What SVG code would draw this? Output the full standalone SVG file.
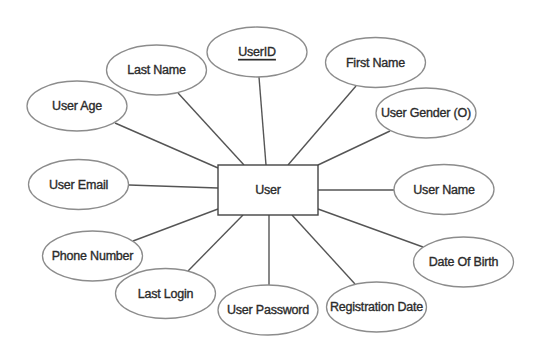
<svg xmlns="http://www.w3.org/2000/svg" width="539" height="361" viewBox="0 0 539 361">
  <style>
    .attr ellipse { fill: #ffffff; stroke: #8c8c8c; stroke-width: 1.3; }
    .entity rect { fill: #ffffff; stroke: #444444; stroke-width: 1.4; }
    text { font-family: "Liberation Sans", Arial, sans-serif; font-size: 12.5px; fill: #2b2b2b; stroke: #2b2b2b; stroke-width: 0.35; text-anchor: middle; dominant-baseline: central; letter-spacing: -0.2px; }
    .key { text-decoration: underline; }
    #connectors line { stroke: #555555; stroke-width: 1.4; }
  </style>
  <rect width="539" height="361" fill="#ffffff"/>

  <!-- attribute-to-entity links -->
  <g id="connectors">
    <line x1="178" y1="93" x2="244" y2="165"/>
    <line x1="259" y1="77" x2="266" y2="165"/>
    <line x1="115" y1="123" x2="218" y2="168"/>
    <line x1="356" y1="86" x2="288" y2="165"/>
    <line x1="390" y1="131" x2="318" y2="165"/>
    <line x1="129" y1="185" x2="218" y2="188"/>
    <line x1="133" y1="241" x2="218" y2="209"/>
    <line x1="188" y1="271" x2="243" y2="215"/>
    <line x1="269" y1="285" x2="269" y2="215"/>
    <line x1="355" y1="284" x2="292" y2="215"/>
    <line x1="423" y1="247" x2="318" y2="209"/>
    <line x1="394" y1="190" x2="318" y2="190"/>
  </g>

  <g id="user" class="entity">
    <rect x="218" y="165" width="100" height="50"/>
    <text x="268" y="190">User</text>
  </g>

  <g id="user-id" class="attr">
    <ellipse cx="257" cy="52" rx="50" ry="25"/>
    <text x="257" y="52" class="key">UserID</text>
  </g>
  <g id="last-name" class="attr">
    <ellipse cx="156.5" cy="70" rx="50" ry="25"/>
    <text x="156.5" y="70">Last Name</text>
  </g>
  <g id="user-age" class="attr">
    <ellipse cx="77" cy="106" rx="50" ry="25"/>
    <text x="77" y="106">User Age</text>
  </g>
  <g id="first-name" class="attr">
    <ellipse cx="375.5" cy="62.5" rx="50" ry="25"/>
    <text x="375.5" y="62.5">First Name</text>
  </g>
  <g id="user-gender" class="attr">
    <ellipse cx="426" cy="113" rx="50" ry="25"/>
    <text x="426" y="113">User Gender (O)</text>
  </g>
  <g id="user-email" class="attr">
    <ellipse cx="78.5" cy="184.5" rx="50" ry="25"/>
    <text x="78.5" y="184.5">User Email</text>
  </g>
  <g id="user-name" class="attr">
    <ellipse cx="444" cy="189.5" rx="50" ry="25"/>
    <text x="444" y="189.5">User Name</text>
  </g>
  <g id="phone-number" class="attr">
    <ellipse cx="92.5" cy="256" rx="50" ry="25"/>
    <text x="92.5" y="256">Phone Number</text>
  </g>
  <g id="date-of-birth" class="attr">
    <ellipse cx="463.5" cy="262" rx="50" ry="25"/>
    <text x="463.5" y="262">Date Of Birth</text>
  </g>
  <g id="last-login" class="attr">
    <ellipse cx="165.5" cy="293.5" rx="50" ry="25"/>
    <text x="165.5" y="293.5">Last Login</text>
  </g>
  <g id="user-password" class="attr">
    <ellipse cx="268" cy="310" rx="50" ry="25"/>
    <text x="268" y="310">User Password</text>
  </g>
  <g id="registration-date" class="attr">
    <ellipse cx="376.5" cy="307" rx="50" ry="25"/>
    <text x="376.5" y="307">Registration Date</text>
  </g>
</svg>
